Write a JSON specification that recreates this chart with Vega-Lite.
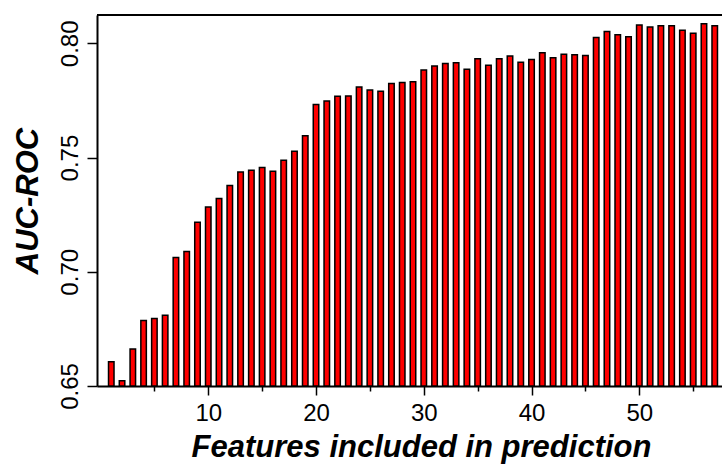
{
  "$schema": "https://vega.github.io/schema/vega-lite/v6.json",
  "width": 625,
  "height": 371,
  "autosize": {"type": "none"},
  "padding": {"left": 97, "top": 15, "right": 0, "bottom": 82},
  "background": "white",
  "config": {"view": {"stroke": null}, "font": "Liberation Sans"},
  "data": {"values": [
    {"n":1,"auc":0.6606},{"n":2,"auc":0.6523},{"n":3,"auc":0.6662},{"n":4,"auc":0.6787},{"n":5,"auc":0.6796},
    {"n":6,"auc":0.6810},{"n":7,"auc":0.7063},{"n":8,"auc":0.7089},{"n":9,"auc":0.7217},{"n":10,"auc":0.7284},
    {"n":11,"auc":0.7321},{"n":12,"auc":0.7378},{"n":13,"auc":0.7437},{"n":14,"auc":0.7444},{"n":15,"auc":0.7456},
    {"n":16,"auc":0.7440},{"n":17,"auc":0.7488},{"n":18,"auc":0.7528},{"n":19,"auc":0.7595},{"n":20,"auc":0.7732},
    {"n":21,"auc":0.7748},{"n":22,"auc":0.7768},{"n":23,"auc":0.7769},{"n":24,"auc":0.7809},{"n":25,"auc":0.7796},
    {"n":26,"auc":0.7790},{"n":27,"auc":0.7824},{"n":28,"auc":0.7828},{"n":29,"auc":0.7832},{"n":30,"auc":0.7883},
    {"n":31,"auc":0.7901},{"n":32,"auc":0.7912},{"n":33,"auc":0.7915},{"n":34,"auc":0.7886},{"n":35,"auc":0.7932},
    {"n":36,"auc":0.7904},{"n":37,"auc":0.7933},{"n":38,"auc":0.7944},{"n":39,"auc":0.7917},{"n":40,"auc":0.7929},
    {"n":41,"auc":0.7959},{"n":42,"auc":0.7937},{"n":43,"auc":0.7952},{"n":44,"auc":0.7950},{"n":45,"auc":0.7947},
    {"n":46,"auc":0.8025},{"n":47,"auc":0.8052},{"n":48,"auc":0.8038},{"n":49,"auc":0.8029},{"n":50,"auc":0.8080},
    {"n":51,"auc":0.8071},{"n":52,"auc":0.8077},{"n":53,"auc":0.8077},{"n":54,"auc":0.8057},{"n":55,"auc":0.8044},
    {"n":56,"auc":0.8086},{"n":57,"auc":0.8077}
  ]},
  "layer": [
    {
      "mark": {"type": "bar", "size": 5.5, "fill": "#ff0000", "stroke": "black", "strokeWidth": 1.5, "clip": true},
      "encoding": {
        "x": {
          "field": "n", "type": "quantitative",
          "scale": {"domain": [0.14, 57.21], "nice": false, "zero": false},
          "axis": {
            "values": [5,10,15,20,25,30,35,40,45,50,55],
            "labelExpr": "datum.value % 10 === 0 ? datum.label : ''",
            "tickSize": {"condition": {"test": "datum.value % 10 === 0", "value": 9}, "value": 5},
            "tickColor": "black", "tickWidth": 1.5,
            "domainColor": "black", "domainWidth": 2,
            "grid": false,
            "labelFontSize": 24, "labelColor": "black", "labelPadding": 6, "labelFlush": false,
            "title": "Features included in prediction",
            "titleFontSize": 31, "titleFontWeight": "bold", "titleFontStyle": "italic", "titleColor": "black",
            "titlePadding": 7, "titleX": 324, "titleAnchor": "middle"
          }
        },
        "y": {
          "field": "auc", "type": "quantitative",
          "scale": {"domain": [0.65, 0.8124], "nice": false, "zero": false},
          "axis": {
            "values": [0.65, 0.70, 0.75, 0.80],
            "format": ".2f",
            "tickSize": 10, "tickColor": "black", "tickWidth": 1.5,
            "domainColor": "black", "domainWidth": 2,
            "grid": false,
            "labelAngle": -90, "labelAlign": "center", "labelBaseline": "bottom",
            "labelFontSize": 24, "labelColor": "black", "labelPadding": 5,
            "title": "AUC-ROC",
            "titleFontSize": 31, "titleFontWeight": "bold", "titleFontStyle": "italic", "titleColor": "black",
            "titlePadding": 14
          }
        },
        "y2": {"datum": 0.65}
      }
    },
    {
      "mark": {"type": "rule", "stroke": "black", "strokeWidth": 2},
      "encoding": {"y": {"datum": 0.8124}}
    }
  ]
}
